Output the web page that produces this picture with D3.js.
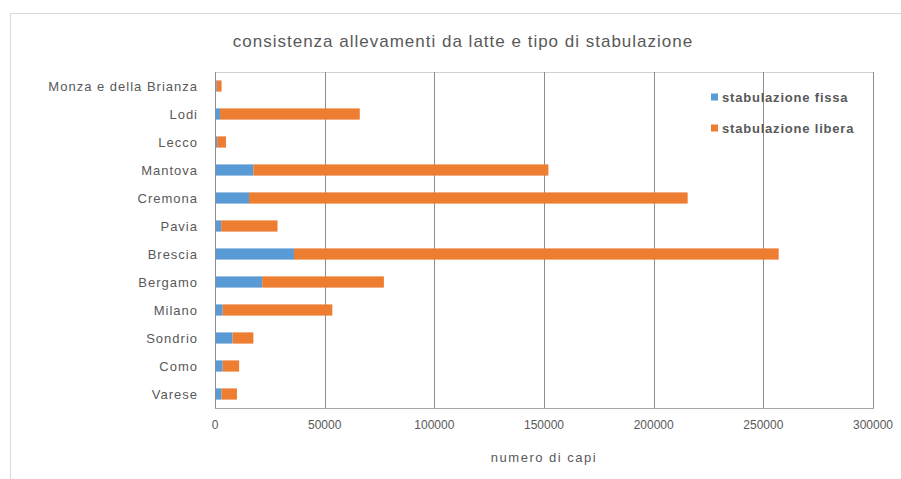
<!DOCTYPE html>
<html>
<head>
<meta charset="utf-8">
<script src="https://cdn.jsdelivr.net/npm/d3@7/dist/d3.min.js"></script>
<style>
  html, body { margin: 0; padding: 0; background: #fff; }
  svg { display: block; }
  text { font-family: "Liberation Sans", "DejaVu Sans", sans-serif; fill: #595959; }
</style>
</head>
<body>
<svg id="chart" width="901" height="479"></svg>
<script>
// Province (top to bottom as drawn)
const categories = ["Monza e della Brianza", "Lodi", "Lecco", "Mantova", "Cremona", "Pavia",
                    "Brescia", "Bergamo", "Milano", "Sondrio", "Como", "Varese"];
// Capi per tipo di stabulazione
const stabulazioneFissa  = [800, 2300, 1000, 17500, 15500, 2800, 36000, 21500, 3500, 8000, 3500, 3000];
const stabulazioneLibera = [2200, 63700, 4000, 134500, 200000, 25700, 221000, 55500, 50000, 9500, 7500, 7000];
const seriesNames = ["stabulazione fissa", "stabulazione libera"];
const seriesColors = ["#5B9BD5", "#ED7D31"];
const xTicks = [0, 50000, 100000, 150000, 200000, 250000, 300000];

const svg = d3.select("#chart");
const W = 901, H = 479;
const plot = { left: 215, right: 873, top: 72, bottom: 408 };

// chart frame
svg.append("rect")
  .attr("x", 10.5).attr("y", 13.5)
  .attr("width", W + 20).attr("height", H + 20)
  .attr("fill", "#fff").attr("stroke", "#d9d9d9").attr("stroke-width", 1);

const x = d3.scaleLinear().domain([0, 300000]).range([plot.left, plot.right]);
const y = d3.scaleBand().domain(categories).range([plot.top, plot.bottom]).paddingInner(0.6).paddingOuter(0.3);

// plot area border
svg.append("rect")
  .attr("x", plot.left + 0.5).attr("y", plot.top + 0.5)
  .attr("width", plot.right - plot.left).attr("height", plot.bottom - plot.top)
  .attr("fill", "none").attr("stroke", "#d0d0d0");

// vertical gridlines
svg.append("g").selectAll("line").data(xTicks.slice(1)).join("line")
  .attr("x1", d => Math.round(x(d)) + 0.5).attr("x2", d => Math.round(x(d)) + 0.5)
  .attr("y1", plot.top).attr("y2", plot.bottom)
  .attr("stroke", "#8c8c8c").attr("stroke-width", 1);

// stacked bars
const rows = categories.map((c, i) => ({ cat: c, vals: [stabulazioneFissa[i], stabulazioneLibera[i]] }));
const stack = rows.map(r => {
  let acc = 0;
  return r.vals.map((v, s) => { const seg = { cat: r.cat, s, x0: acc, x1: acc + v }; acc += v; return seg; });
}).flat();

svg.append("g").selectAll("rect").data(stack).join("rect")
  .attr("x", d => x(d.x0))
  .attr("y", d => y(d.cat))
  .attr("width", d => x(d.x1) - x(d.x0))
  .attr("height", y.bandwidth())
  .attr("fill", d => seriesColors[d.s]);

// axes lines
svg.append("line")
  .attr("x1", plot.left + 0.5).attr("x2", plot.left + 0.5)
  .attr("y1", plot.top).attr("y2", plot.bottom + 0.5)
  .attr("stroke", "#8c8c8c");
svg.append("line")
  .attr("x1", plot.left).attr("x2", plot.right + 1)
  .attr("y1", plot.bottom + 0.5).attr("y2", plot.bottom + 0.5)
  .attr("stroke", "#a6a6a6");

// category labels
svg.append("g").selectAll("text").data(categories).join("text")
  .attr("x", 198)
  .attr("y", d => y(d) + y.bandwidth() / 2)
  .attr("dy", "0.35em")
  .attr("text-anchor", "end")
  .attr("font-size", 13)
  .attr("letter-spacing", 1)
  .text(d => d);

// x tick labels
svg.append("g").selectAll("text").data(xTicks).join("text")
  .attr("x", d => x(d))
  .attr("y", 429)
  .attr("text-anchor", "middle")
  .attr("font-size", 12)
  .text(d => d);

// axis title
svg.append("text")
  .attr("x", (plot.left + plot.right) / 2)
  .attr("y", 462)
  .attr("text-anchor", "middle")
  .attr("font-size", 13)
  .attr("letter-spacing", 1.5)
  .text("numero di capi");

// chart title
svg.append("text")
  .attr("x", 463)
  .attr("y", 47)
  .attr("text-anchor", "middle")
  .attr("font-size", 17)
  .attr("letter-spacing", 1)
  .text("consistenza allevamenti da latte e tipo di stabulazione");

// legend
const legend = svg.append("g").selectAll("g").data(seriesNames).join("g")
  .attr("transform", (d, i) => `translate(711, ${97 + i * 31})`);
legend.append("rect")
  .attr("x", 0).attr("y", -3.5).attr("width", 7).attr("height", 7)
  .attr("fill", (d, i) => seriesColors[i]);
legend.append("text")
  .attr("x", 11).attr("y", 0).attr("dy", "0.35em")
  .attr("font-size", 13)
  .attr("font-weight", "bold")
  .attr("letter-spacing", 0.8)
  .text(d => d);
</script>
</body>
</html>
